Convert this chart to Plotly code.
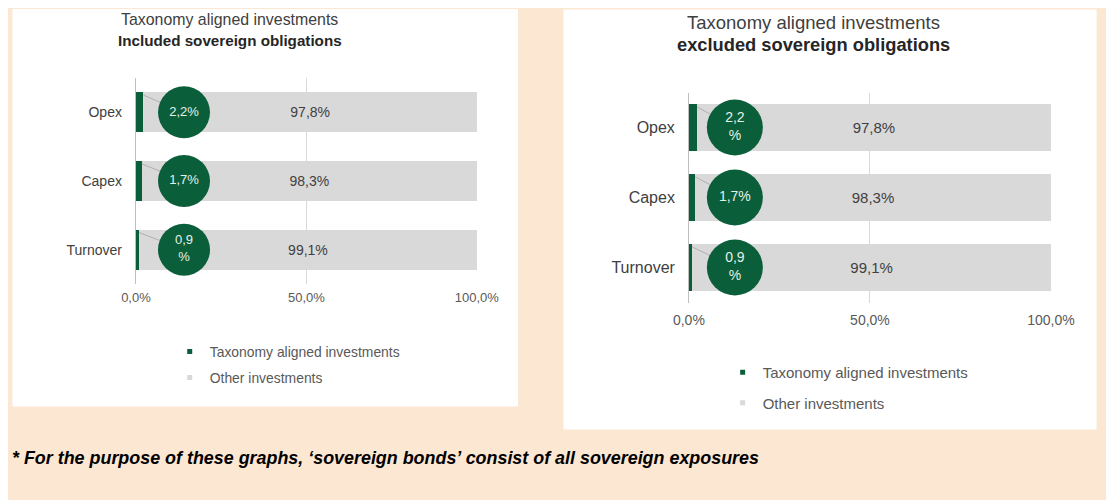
import plotly.graph_objects as go

# categories bottom -> top (as drawn)
categories = ["Turnover", "Capex", "Opex"]

# left chart: included sovereign obligations
incl_aligned = [0.9, 1.7, 2.2]
incl_other = [99.1, 98.3, 97.8]

# right chart: excluded sovereign obligations
excl_aligned = [0.9, 1.7, 2.2]
excl_other = [99.1, 98.3, 97.8]

x_ticks = [0, 50, 100]
series_names = ["Taxonomy aligned investments", "Other investments"]

W, H = 1114, 500
GREEN = "#0b5e3a"
GREY = "#d9d9d9"
TEXT = "#404040"
LIGHT = "#595959"
FONT = "Liberation Sans, Arial, sans-serif"


def fx(p):
    return p / W


def fy(p):
    return 1 - p / H


def pct(v):
    return f"{v:.1f}".replace(".", ",") + "%"


panels = [
    dict(xa="x", ya="y", legend="legend",
         aligned=incl_aligned, other=incl_other,
         xdom=(116, 470), ytop=70, ybot=276, bar_w=0.58,
         circ_x=14.1, circ_size=52, circ_font=13, wrap=[True, False, False],
         title_x=213, title_y=(11.5, 32.5), title_font=(15.9, 15.2),
         cat_font=14, tick_font=13, lab_font=14, tick_pad=4,
         leg_x=151, leg_y=328, leg_font=13.9, leg_gap=5,
         sub="Included sovereign obligations"),
    dict(xa="x2", ya="y2", legend="legend2",
         aligned=excl_aligned, other=excl_other,
         xdom=(689, 1065), ytop=84.5, ybot=294.5, bar_w=0.67,
         circ_x=12.7, circ_size=56, circ_font=14, wrap=[True, False, True],
         title_x=818, title_y=(14.5, 36.5), title_font=(18.5, 18.3),
         cat_font=16, tick_font=14, lab_font=15, tick_pad=7,
         leg_x=724, leg_y=348, leg_font=15, leg_gap=8,
         sub="excluded sovereign obligations"),
]

fig = go.Figure()
ypos = list(range(len(categories)))

for p in panels:
    # leader lines from bar end to the bubble
    lx, ly = [], []
    for v, y in zip(p["aligned"], ypos):
        lx += [v, p["circ_x"], None]
        ly += [y + p["bar_w"] / 2 - 0.04, y, None]
    fig.add_trace(go.Scatter(x=lx, y=ly, mode="lines", xaxis=p["xa"], yaxis=p["ya"],
                             line=dict(color="#a6a6a6", width=0.8),
                             showlegend=False, hoverinfo="skip"))
    fig.add_trace(go.Bar(x=p["aligned"], y=ypos, orientation="h", width=p["bar_w"],
                         marker=dict(color=GREEN, line=dict(width=0)),
                         xaxis=p["xa"], yaxis=p["ya"], showlegend=False,
                         name=series_names[0]))
    fig.add_trace(go.Bar(x=p["other"], y=ypos, orientation="h", width=p["bar_w"],
                         marker=dict(color=GREY, line=dict(width=0)),
                         text=[pct(v) for v in p["other"]], textposition="inside",
                         insidetextanchor="middle",
                         textfont=dict(family=FONT, size=p["lab_font"], color=TEXT),
                         xaxis=p["xa"], yaxis=p["ya"], showlegend=False,
                         name=series_names[1]))
    labels = []
    for v, w in zip(p["aligned"], p["wrap"]):
        s = pct(v)
        labels.append(s[:-1] + "<br>%" if w else s)
    fig.add_trace(go.Scatter(x=[p["circ_x"]] * len(ypos), y=ypos, mode="markers+text",
                             text=labels, textposition="middle center",
                             textfont=dict(family=FONT, size=p["circ_font"], color="#e4f1e8"),
                             marker=dict(size=p["circ_size"], color=GREEN,
                                         line=dict(width=0)),
                             xaxis=p["xa"], yaxis=p["ya"], showlegend=False,
                             hoverinfo="skip"))
    # legend entries
    for name, col in zip(series_names, [GREEN, GREY]):
        fig.add_trace(go.Scatter(x=[None], y=[None], mode="markers", name=name,
                                 marker=dict(symbol="square", size=5, color=col),
                                 legend=p["legend"], legendgroup=p["legend"] + name,
                                 xaxis=p["xa"], yaxis=p["ya"]))

layout = dict(
    width=W, height=H,
    margin=dict(l=0, r=0, t=0, b=0),
    paper_bgcolor="#fce7d3",
    plot_bgcolor="white",
    barmode="stack",
    font=dict(family=FONT, color=TEXT),
    shapes=[
        dict(type="rect", xref="paper", yref="paper", x0=fx(-12), x1=fx(512),
             y0=fy(398.5), y1=fy(1), fillcolor="white", line=dict(width=0), layer="below"),
        dict(type="rect", xref="paper", yref="paper", x0=fx(559), x1=fx(1111.5),
             y0=fy(421.5), y1=fy(1.5), fillcolor="white", line=dict(width=0), layer="below"),
    ],
    annotations=[],
)

for i, p in enumerate(panels):
    sfx = "" if i == 0 else "2"
    layout["xaxis" + sfx] = dict(
        domain=[fx(p["xdom"][0]), fx(p["xdom"][1])], range=[0, 100.2],
        tickvals=x_ticks, ticktext=[pct(v) for v in x_ticks],
        showgrid=True, gridcolor="#d9d9d9", gridwidth=1,
        zeroline=True, zerolinecolor="#bfbfbf", zerolinewidth=1,
        showline=False, fixedrange=True, ticklabelstandoff=p["tick_pad"],
        tickfont=dict(family=FONT, size=p["tick_font"], color=LIGHT),
        anchor="y" + sfx,
    )
    layout["yaxis" + sfx] = dict(
        domain=[fy(p["ybot"]), fy(p["ytop"])], range=[-0.5, 2.5],
        tickvals=ypos, ticktext=categories, showgrid=False, zeroline=False,
        ticklabelstandoff=13, fixedrange=True,
        tickfont=dict(family=FONT, size=p["cat_font"], color=TEXT),
        anchor="x" + sfx,
    )
    layout[p["legend"]] = dict(
        x=fx(p["leg_x"]), y=fy(p["leg_y"]), xanchor="left", yanchor="top",
        bgcolor="rgba(0,0,0,0)", tracegroupgap=p["leg_gap"],
        font=dict(family=FONT, size=p["leg_font"], color=LIGHT),
    )
    layout["annotations"] += [
        dict(text="Taxonomy aligned investments", xref="paper", yref="paper",
             x=fx(p["title_x"]), y=fy(p["title_y"][0]), xanchor="center", yanchor="middle",
             showarrow=False, font=dict(family=FONT, size=p["title_font"][0], color=TEXT)),
        dict(text="<b>" + p["sub"] + "</b>", xref="paper", yref="paper",
             x=fx(p["title_x"]), y=fy(p["title_y"][1]), xanchor="center", yanchor="middle",
             showarrow=False, font=dict(family=FONT, size=p["title_font"][1], color="#262626")),
    ]

layout["annotations"].append(
    dict(text="* For the purpose of these graphs, \u2018sovereign bonds\u2019 consist of all sovereign exposures",
         xref="paper", yref="paper", x=fx(-15), y=fy(449.5), xanchor="left", yanchor="middle",
         showarrow=False,
         font=dict(family=FONT, size=17.9, color="#000000", weight="bold", style="italic"))
)

fig.update_layout(**layout)
fig.write_html("out.html")
